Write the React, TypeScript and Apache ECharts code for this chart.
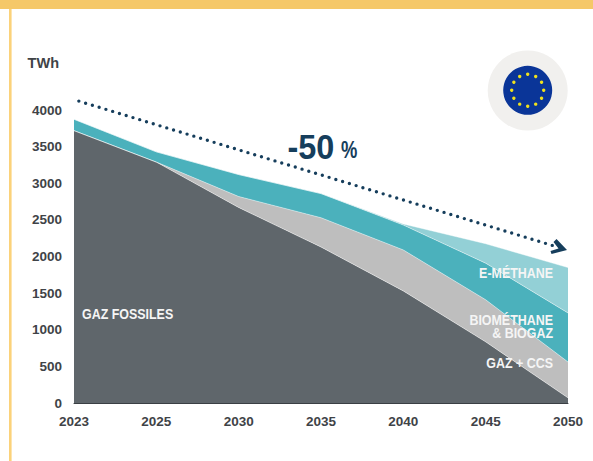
import React, { useEffect, useRef } from "react";
import * as echarts from "echarts";

const years = ["2023", "2025", "2030", "2035", "2040", "2045", "2050"];
const fossilGas = [3720, 3290, 2670, 2130, 1530, 835, 70];
const gasCcs = [0, 0, 150, 400, 560, 575, 490];
const biomethane = [155, 140, 300, 330, 340, 500, 670];
const eMethane = [0, 0, 0, 0, 15, 265, 620];
const trend = [4143, null, null, null, null, null, 2087];

const INK = "#3F4347";
const NAVY = "#163E5C";
const SANS = '"Liberation Sans", Arial, sans-serif';
const SQUEEZE = 0.83;

// Round dots for the trend line; the long last gap stops them short of the arrow head
const DOT_STEP = 7.07;
const trendDash = [...Array(71).fill(0).flatMap(() => [0, DOT_STEP]), 0, 100];

const areaSeries = (name: string, data: number[], color: string) => ({
  name,
  type: "line",
  stack: "gas",
  data,
  symbol: "none",
  smooth: false,
  lineStyle: { width: 0.8, color: "rgba(255,255,255,0.55)" },
  areaStyle: { color, opacity: 1 },
});

// Condensed look is obtained by squeezing the bold sans horizontally
const areaLabel = (text: string, x: number, y: number, align: string) => ({
  type: "text",
  x,
  y,
  z: 20,
  scaleX: SQUEEZE,
  style: {
    text,
    fill: "#F5F5F5",
    font: `bold 15px ${SANS}`,
    lineHeight: 13,
    align,
    verticalAlign: "middle",
  },
});

// The twelve stars of the flag, laid out on a ring
const flagStars = Array.from({ length: 12 }, (_, i) => ({
  type: "circle",
  z: 23,
  shape: {
    cx: 527.7 + 16 * Math.cos((i * Math.PI) / 6),
    cy: 90.3 + 16 * Math.sin((i * Math.PI) / 6),
    r: 1.7,
  },
  style: { fill: "#EFE11E" },
}));

export default function App() {
  const ref = useRef<HTMLDivElement>(null);

  useEffect(() => {
    const chart = echarts.init(ref.current!, undefined, { renderer: "svg" });
    chart.setOption({
      animation: false,
      backgroundColor: "#FFFFFF",
      grid: { left: 74, right: 25, top: 73.5, bottom: 58, containLabel: false },
      xAxis: {
        type: "category",
        data: years,
        boundaryGap: false,
        axisLine: { lineStyle: { color: "#3A3F44", width: 1 } },
        axisTick: { show: false },
        axisLabel: {
          color: INK,
          fontFamily: SANS,
          fontWeight: "bold",
          fontSize: 13.5,
          margin: 11,
          hideOverlap: false,
          interval: 0,
        },
      },
      yAxis: {
        type: "value",
        min: 0,
        max: 4500,
        interval: 500,
        name: "TWh",
        nameLocation: "end",
        nameGap: 3,
        nameTextStyle: {
          color: INK,
          fontFamily: SANS,
          fontWeight: "bold",
          fontSize: 14.5,
          align: "right",
          padding: [0, 15, 0, 0],
        },
        axisLine: { show: false },
        axisTick: { show: false },
        splitLine: { show: false },
        axisLabel: {
          color: INK,
          fontFamily: SANS,
          fontWeight: "bold",
          fontSize: 13.5,
          margin: 12,
          formatter: (v: number) => (v > 4000 ? "" : String(v)),
        },
      },
      series: [
        areaSeries("Gaz fossiles", fossilGas, "#5F666B"),
        areaSeries("Gaz + CCS", gasCcs, "#BEBEBE"),
        areaSeries("Biométhane & biogaz", biomethane, "#4BB1BC"),
        areaSeries("E-méthane", eMethane, "#93D0D6"),
        {
          name: "Tendance",
          type: "line",
          data: trend,
          connectNulls: true,
          symbol: "none",
          clip: false,
          z: 5,
          lineStyle: {
            color: NAVY,
            width: 3.4,
            type: trendDash,
            dashOffset: 1.87,
            cap: "round",
          },
        },
      ],
      graphic: [
        // Yellow page frame
        { type: "rect", z: 30, shape: { x: 0, y: 0, width: 593, height: 9 }, style: { fill: "#F5C869" } },
        { type: "rect", z: 30, shape: { x: 9, y: 9, width: 2.6, height: 452 }, style: { fill: "#FBD27A" } },
        // Flag badge
        { type: "circle", z: 21, shape: { cx: 527.7, cy: 90.5, r: 40 }, style: { fill: "#F1F0EE" } },
        { type: "circle", z: 22, shape: { cx: 527.7, cy: 90.3, r: 24.5 }, style: { fill: "#0A3598" } },
        { type: "rect", z: 22, shape: { x: 553, y: 70, width: 6, height: 40 }, style: { fill: "#F1F0EE" } },
        ...flagStars,
        // Chevron arrow head of the trend line
        {
          type: "polygon",
          z: 22,
          shape: {
            points: [
              [556.5, 239],
              [567, 250],
              [551.5, 254],
              [550.5, 251],
              [558.5, 248.5],
              [553.5, 242],
            ],
          },
          style: { fill: NAVY },
        },
        // Reduction callout
        {
          type: "text",
          x: 287.5,
          y: 146,
          z: 20,
          scaleX: 0.9,
          style: {
            text: "-50",
            fill: NAVY,
            font: `bold 36px ${SANS}`,
            verticalAlign: "middle",
          },
        },
        {
          type: "text",
          x: 341,
          y: 150,
          z: 20,
          scaleX: 0.8,
          style: {
            text: "%",
            fill: NAVY,
            font: `bold 23px ${SANS}`,
            verticalAlign: "middle",
          },
        },
        areaLabel("GAZ FOSSILES", 82, 314, "left"),
        areaLabel("E-MÉTHANE", 553, 273.5, "right"),
        areaLabel("BIOMÉTHANE\n& BIOGAZ", 553, 326.5, "right"),
        areaLabel("GAZ + CCS", 553, 363, "right"),
      ],
    });
    return () => chart.dispose();
  }, []);

  return (
    <div
      ref={ref}
      style={{ position: "fixed", left: 0, top: 0, width: 593, height: 461 }}
    />
  );
}
